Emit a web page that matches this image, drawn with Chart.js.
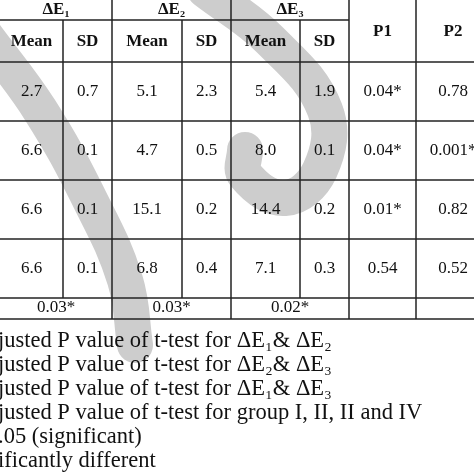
<!DOCTYPE html>
<html><head><meta charset="utf-8">
<script src="https://cdn.jsdelivr.net/npm/chart.js@4"></script>
<style>html,body{margin:0;padding:0;background:#fff}#c{display:block}</style>
</head><body>
<div style="width:474px;height:474px"><canvas id="c"></canvas></div>
<script>
let groups = ["ΔE₁", "ΔE₂", "ΔE₃"];
let means = [
    ["2.7", "5.1", "5.4"],
    ["6.6", "4.7", "8.0"],
    ["6.6", "15.1", "14.4"],
    ["6.6", "6.8", "7.1"]
];
let sds = [
    ["0.7", "2.3", "1.9"],
    ["0.1", "0.5", "0.1"],
    ["0.1", "0.2", "0.2"],
    ["0.1", "0.4", "0.3"]
];
let p1Values = ["0.04*", "0.04*", "0.01*", "0.54"];
let p2Values = ["0.78", "0.001*", "0.82", "0.52"];
let groupP = ["0.03*", "0.03*", "0.02*"];
let notes = [
    "justed P value of t-test for ΔE₁& ΔE₂",
    "justed P value of t-test for ΔE₂& ΔE₃",
    "justed P value of t-test for ΔE₁& ΔE₃",
    "justed P value of t-test for group I, II, II and IV",
    ".05 (significant)",
    "ificantly different"
];

// table grid in chart units (same as pixels at 474x474)
let colLines = [0, 63, 112, 182, 231, 300, 349, 416, 474];
let rowLines = [20, 62, 121, 180, 239, 298, 319];

const tablePlugin = {
    id: "table",
    afterDatasetsDraw(chart) {
        const ctx = chart.ctx, xs = chart.scales.x, ys = chart.scales.y;
        const X = v => xs.getPixelForValue(v), Y = v => ys.getPixelForValue(v);
        const mid = (a, b) => (X(a) + X(b)) / 2;
        ctx.save();
        ctx.strokeStyle = "#222";
        ctx.lineWidth = 1.5;
        const line = (x1, y1, x2, y2) => {
            ctx.beginPath(); ctx.moveTo(X(x1), Y(y1)); ctx.lineTo(X(x2), Y(y2)); ctx.stroke();
        };
        line(0, 20, 349, 20);
        rowLines.slice(1).forEach(r => line(0, r, 474, r));
        [112, 231, 349, 416].forEach(c => line(c, 0, c, 319));
        [63, 182, 300].forEach(c => line(c, 20, c, 298));

        ctx.fillStyle = "#111";
        ctx.textAlign = "center";
        ctx.textBaseline = "middle";
        ctx.font = "bold 17px 'Liberation Serif'";
        groups.forEach((g, i) => ctx.fillText(g, mid(colLines[i * 2], colLines[i * 2 + 2]), Y(10)));
        for (let i = 0; i < 3; i++) {
            ctx.fillText("Mean", mid(colLines[i * 2], colLines[i * 2 + 1]), Y(42));
            ctx.fillText("SD", mid(colLines[i * 2 + 1], colLines[i * 2 + 2]), Y(42));
        }
        ctx.fillText("P1", mid(349, 416), Y(32));
        ctx.fillText("P2", X(453), Y(32));

        ctx.font = "17px 'Liberation Serif'";
        means.forEach((row, r) => {
            const yc = (Y(rowLines[r + 1]) + Y(rowLines[r + 2])) / 2;
            row.forEach((m, i) => {
                ctx.fillText(m, mid(colLines[i * 2], colLines[i * 2 + 1]), yc);
                ctx.fillText(sds[r][i], mid(colLines[i * 2 + 1], colLines[i * 2 + 2]), yc);
            });
            ctx.fillText(p1Values[r], mid(349, 416), yc);
            ctx.fillText(p2Values[r], X(453), yc);
        });
        groupP.forEach((p, i) => ctx.fillText(p, mid(colLines[i * 2], colLines[i * 2 + 2]), Y(308)));

        ctx.textAlign = "left";
        ctx.font = "22.5px 'Liberation Serif'";
        notes.forEach((n, i) => ctx.fillText(n, X(-2), Y(341 + i * 24)));
        ctx.restore();
    }
};

const swoosh = { borderColor: "#cdcdcd", borderWidth: 36, pointRadius: 0, tension: 0.4, showLine: true, borderCapStyle: "round" };

new Chart(document.getElementById("c"), {
    type: "scatter",
    data: {
        datasets: [
            Object.assign({ data: [{x: -15, y: 35}, {x: 40, y: 110}, {x: 90, y: 200}, {x: 125, y: 280}, {x: 135, y: 345}] }, swoosh),
            Object.assign({ data: [{x: 205, y: -10}, {x: 270, y: 40}, {x: 325, y: 110}, {x: 320, y: 170}, {x: 285, y: 198}, {x: 245, y: 175}, {x: 245, y: 150}] }, swoosh)
        ]
    },
    options: {
        responsive: true,
        maintainAspectRatio: false,
        animation: false,
        layout: { padding: 0 },
        scales: {
            x: { type: "linear", min: 0, max: 474, display: false },
            y: { type: "linear", min: 0, max: 474, reverse: true, display: false }
        },
        plugins: { legend: { display: false }, tooltip: { enabled: false } }
    },
    plugins: [tablePlugin]
});
</script>
</body></html>
